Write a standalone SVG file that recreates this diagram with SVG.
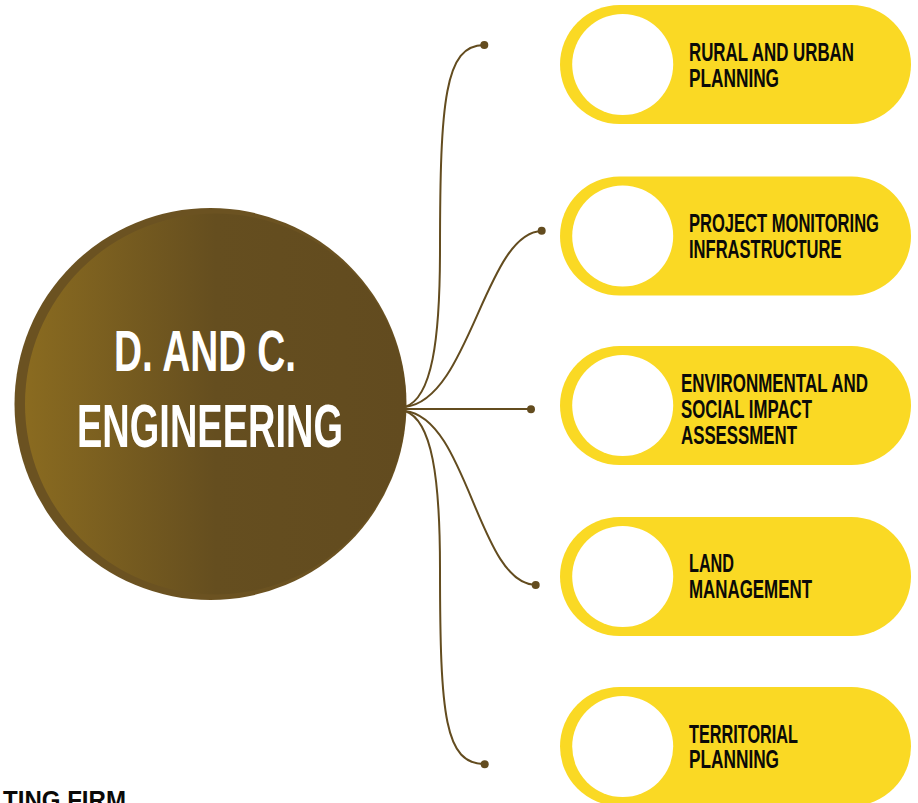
<svg xmlns="http://www.w3.org/2000/svg" width="918" height="803" viewBox="0 0 918 803">
  <defs>
    <linearGradient id="hubGrad" x1="0" y1="0" x2="1" y2="0">
      <stop offset="0" stop-color="#8a6b20"/>
      <stop offset="0.5" stop-color="#654e1f"/>
      <stop offset="1" stop-color="#624b1f"/>
    </linearGradient>
    <style>
      .pill { fill: #fad924; }
      .hole { fill: #ffffff; }
      .lbl { font-family: "Liberation Sans", Arial, sans-serif; font-weight: bold; font-size: 25px; fill: #0b0a08; }
      .hubtxt { font-family: "Liberation Sans", Arial, sans-serif; font-weight: bold; fill: #ffffff; }
      .wire { fill: none; stroke: #634c1f; stroke-width: 2; }
      .dot { fill: #634c1f; }
    </style>
  </defs>

  <g id="connectors">
    <path class="wire" d="M405,407 C432,398 440,340 440,250 C440,100 445,45 484,45"/>
    <path class="wire" d="M405,407 C470,400 485,232 542,231"/>
    <path class="wire" d="M405,409 L531,409"/>
    <path class="wire" d="M405,411 C468,418 478,584 536,585"/>
    <path class="wire" d="M405,411 C432,420 440,478 440,568 C440,718 445,764 485,764"/>
    <circle class="dot" cx="484.3" cy="45" r="4"/>
    <circle class="dot" cx="541.7" cy="230.7" r="4"/>
    <circle class="dot" cx="531" cy="409.3" r="4"/>
    <circle class="dot" cx="535.7" cy="585" r="4"/>
    <circle class="dot" cx="484.7" cy="764.3" r="4"/>
  </g>

  <g id="hub">
    <circle cx="210.5" cy="404" r="196" fill="#6b5221"/>
    <circle cx="215.5" cy="404" r="190.5" fill="url(#hubGrad)"/>
    <text class="hubtxt" transform="translate(114 371) scale(0.64 1)" font-size="57" textLength="284.4" lengthAdjust="spacingAndGlyphs">D. AND C.</text>
    <text class="hubtxt" transform="translate(77 446.5) scale(0.64 1)" font-size="62" textLength="415.6" lengthAdjust="spacingAndGlyphs">ENGINEERING</text>
  </g>

  <g id="node-rural">
    <rect class="pill" x="560" y="5" width="351" height="119" rx="59.5"/>
    <circle class="hole" cx="622.7" cy="64.5" r="50.5"/>
    <text class="lbl" transform="translate(689 61) scale(0.68 1)" textLength="242.6" lengthAdjust="spacingAndGlyphs">RURAL AND URBAN</text>
    <text class="lbl" transform="translate(689 87) scale(0.68 1)" textLength="132.4" lengthAdjust="spacingAndGlyphs">PLANNING</text>
  </g>

  <g id="node-project">
    <rect class="pill" x="560" y="176.5" width="351" height="119" rx="59.5"/>
    <circle class="hole" cx="622.7" cy="236" r="50.5"/>
    <text class="lbl" transform="translate(689 232.3) scale(0.68 1)" textLength="279.4" lengthAdjust="spacingAndGlyphs">PROJECT MONITORING</text>
    <text class="lbl" transform="translate(689 258.3) scale(0.68 1)" textLength="224.3" lengthAdjust="spacingAndGlyphs">INFRASTRUCTURE</text>
  </g>

  <g id="node-environmental">
    <rect class="pill" x="560" y="346" width="351" height="119" rx="59.5"/>
    <circle class="hole" cx="622.7" cy="405.5" r="50.5"/>
    <text class="lbl" transform="translate(681 392) scale(0.68 1)" textLength="275" lengthAdjust="spacingAndGlyphs">ENVIRONMENTAL AND</text>
    <text class="lbl" transform="translate(681 418) scale(0.68 1)" textLength="192.6" lengthAdjust="spacingAndGlyphs">SOCIAL IMPACT</text>
    <text class="lbl" transform="translate(681 444) scale(0.68 1)" textLength="170.6" lengthAdjust="spacingAndGlyphs">ASSESSMENT</text>
  </g>

  <g id="node-land">
    <rect class="pill" x="560" y="517" width="351" height="119" rx="59.5"/>
    <circle class="hole" cx="622.7" cy="576.5" r="50.5"/>
    <text class="lbl" transform="translate(689 572.3) scale(0.68 1)" textLength="66.2" lengthAdjust="spacingAndGlyphs">LAND</text>
    <text class="lbl" transform="translate(689 598.3) scale(0.68 1)" textLength="180.9" lengthAdjust="spacingAndGlyphs">MANAGEMENT</text>
  </g>

  <g id="node-territorial">
    <rect class="pill" x="560" y="687" width="351" height="119" rx="59.5"/>
    <circle class="hole" cx="622.7" cy="746.5" r="50.5"/>
    <text class="lbl" transform="translate(689 742.7) scale(0.68 1)" textLength="160.3" lengthAdjust="spacingAndGlyphs">TERRITORIAL</text>
    <text class="lbl" transform="translate(689 768.3) scale(0.68 1)" textLength="132.4" lengthAdjust="spacingAndGlyphs">PLANNING</text>
  </g>

  <g id="footer">
    <text class="lbl" transform="translate(3 808.5) scale(0.86 1)" font-size="28" textLength="143" lengthAdjust="spacingAndGlyphs">TING FIRM</text>
  </g>
</svg>
